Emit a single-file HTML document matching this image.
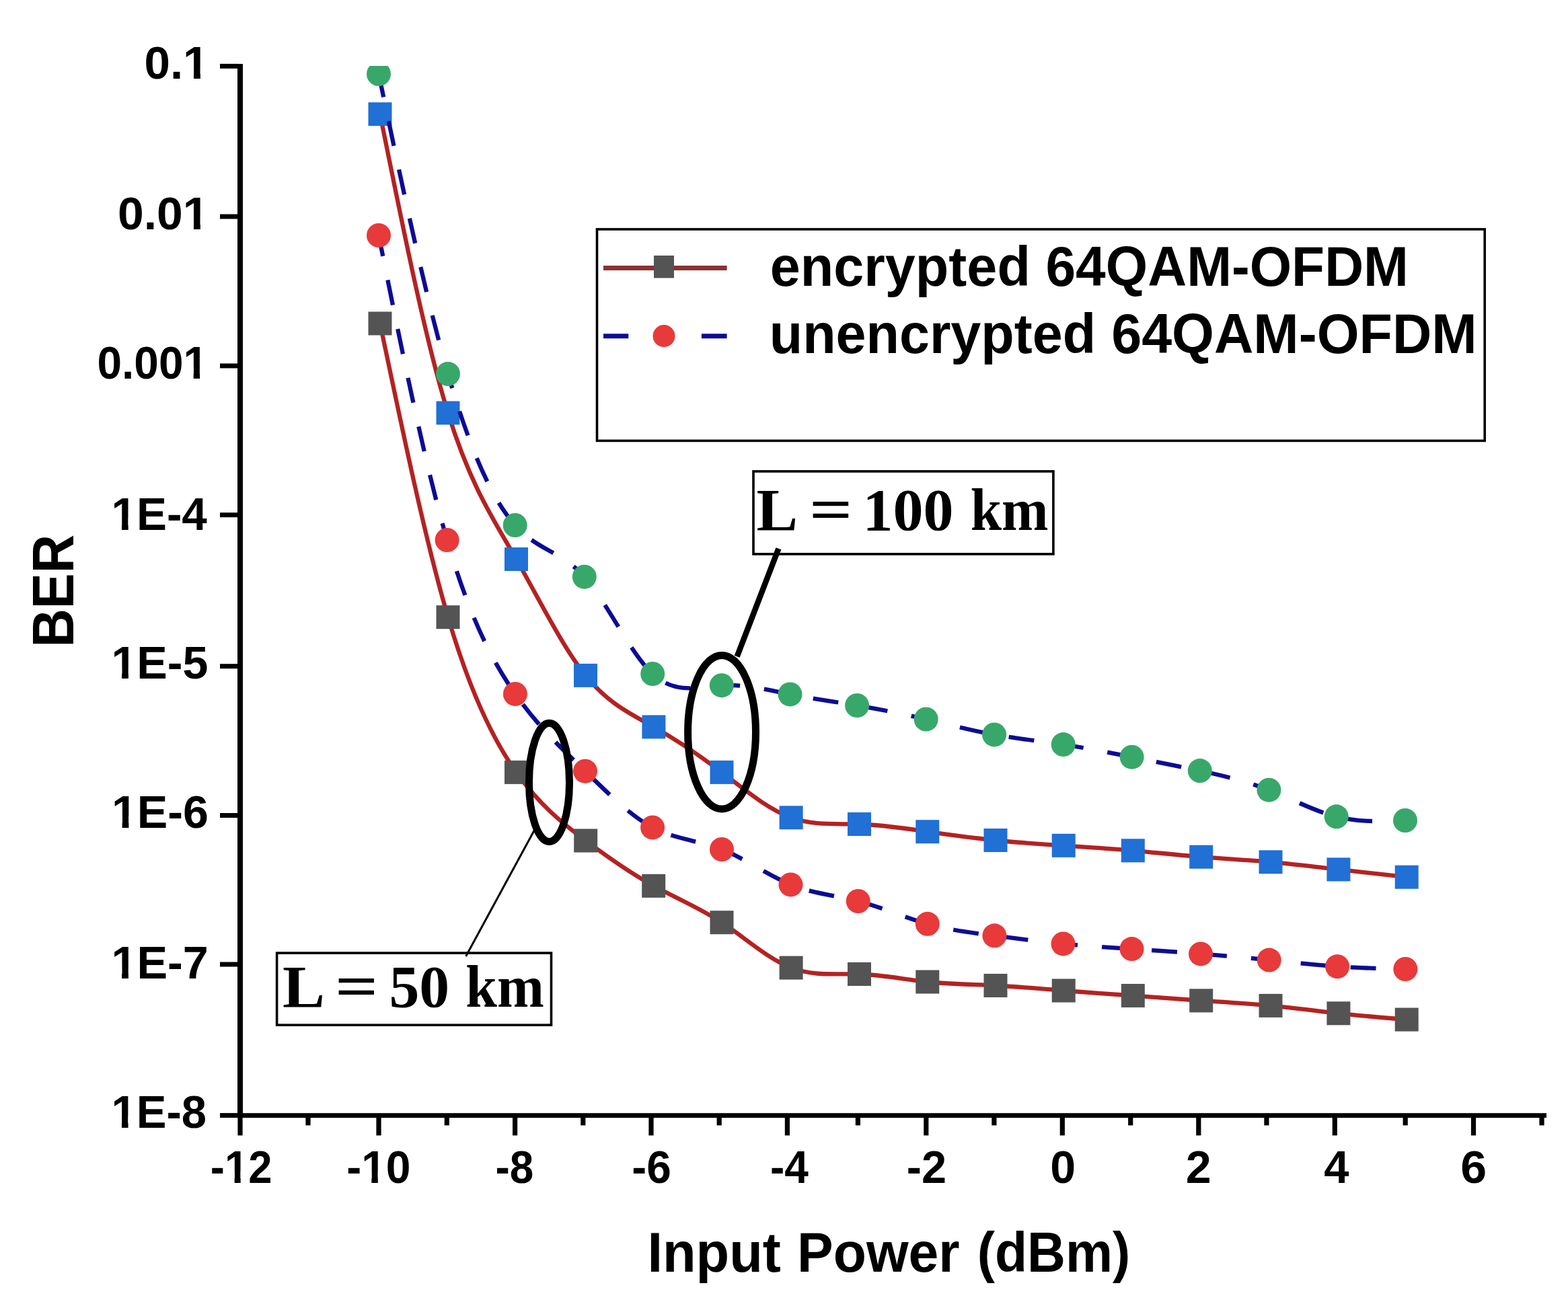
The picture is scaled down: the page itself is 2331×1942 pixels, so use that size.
<!DOCTYPE html>
<html><head><meta charset="utf-8"><title>BER vs Input Power</title>
<style>html,body{margin:0;padding:0;background:#fff;overflow:hidden;}svg{display:block;}</style>
</head><body>
<svg width="2331" height="1942" viewBox="0 0 2331 1942">
<defs><clipPath id="plot"><rect x="361" y="98" width="1970" height="1557"/></clipPath></defs>
<rect width="2331" height="1942" fill="#fff"/>
<g clip-path="url(#plot)">
<path d="M565.0,481.0 C598.7,642.1 632.3,803.2 666.0,917.7 C699.8,1032.8 733.7,1100.8 767.5,1148.4 C801.9,1196.8 836.3,1224.3 870.7,1250.0 C904.4,1275.2 938.0,1298.7 971.7,1317.3 C1005.5,1335.9 1039.2,1349.5 1073.0,1371.7 C1107.4,1394.3 1141.7,1425.9 1176.1,1439.1 C1209.9,1452.1 1243.7,1447.4 1277.5,1448.5 C1311.3,1449.6 1345.0,1456.4 1378.8,1460.0 C1412.5,1463.6 1446.3,1463.8 1480.0,1465.5 C1513.7,1467.2 1547.5,1470.3 1581.2,1473.0 C1615.6,1475.7 1649.9,1478.0 1684.3,1480.5 C1718.1,1483.0 1751.9,1485.6 1785.7,1487.9 C1820.1,1490.2 1854.6,1492.1 1889.0,1495.4 C1922.6,1498.6 1956.3,1503.1 1989.9,1506.8 C2023.7,1510.5 2057.4,1513.3 2091.2,1516.1" fill="none" stroke="#b42222" stroke-width="6.3"/>
<g fill="#545454"><rect x="547.5" y="463.5" width="35" height="35"/><rect x="648.5" y="900.2" width="35" height="35"/><rect x="750.0" y="1130.9" width="35" height="35"/><rect x="853.2" y="1232.5" width="35" height="35"/><rect x="954.2" y="1299.8" width="35" height="35"/><rect x="1055.5" y="1354.2" width="35" height="35"/><rect x="1158.6" y="1421.6" width="35" height="35"/><rect x="1260.0" y="1431.0" width="35" height="35"/><rect x="1361.3" y="1442.5" width="35" height="35"/><rect x="1462.5" y="1448.0" width="35" height="35"/><rect x="1563.7" y="1455.5" width="35" height="35"/><rect x="1666.8" y="1463.0" width="35" height="35"/><rect x="1768.2" y="1470.4" width="35" height="35"/><rect x="1871.5" y="1477.9" width="35" height="35"/><rect x="1972.4" y="1489.3" width="35" height="35"/><rect x="2073.7" y="1498.6" width="35" height="35"/></g>
<path d="M563.0,350.0 C596.9,518.3 630.7,686.5 664.6,803.0 C698.4,919.1 732.1,983.8 765.9,1031.9 C800.6,1081.3 835.3,1113.2 870.0,1146.7 C903.4,1178.9 936.7,1212.7 970.1,1230.4 C1004.4,1248.6 1038.7,1249.7 1073.0,1263.0 C1107.2,1276.3 1141.3,1301.6 1175.5,1315.4 C1208.9,1328.9 1242.3,1331.4 1275.7,1340.0 C1310.1,1348.9 1344.4,1364.2 1378.8,1373.8 C1412.0,1383.1 1445.2,1387.1 1478.4,1391.3 C1512.4,1395.6 1546.5,1400.1 1580.5,1403.4 C1614.5,1406.7 1648.5,1408.9 1682.5,1411.1 C1716.7,1413.3 1750.8,1415.7 1785.0,1418.4 C1818.9,1421.1 1852.8,1424.1 1886.7,1427.6 C1920.5,1431.0 1954.3,1434.9 1988.1,1437.2 C2021.8,1439.5 2055.6,1440.2 2089.3,1441.0" fill="none" stroke="#0c0c94" stroke-width="6.3" stroke-dasharray="38 36.15" stroke-dashoffset="6.47"/>
<g fill="#e83a3a"><circle cx="563.0" cy="350.0" r="18"/><circle cx="664.6" cy="803.0" r="18"/><circle cx="765.9" cy="1031.9" r="18"/><circle cx="870.0" cy="1146.7" r="18"/><circle cx="970.1" cy="1230.4" r="18"/><circle cx="1073.0" cy="1263.0" r="18"/><circle cx="1175.5" cy="1315.4" r="18"/><circle cx="1275.7" cy="1340.0" r="18"/><circle cx="1378.8" cy="1373.8" r="18"/><circle cx="1478.4" cy="1391.3" r="18"/><circle cx="1580.5" cy="1403.4" r="18"/><circle cx="1682.5" cy="1411.1" r="18"/><circle cx="1785.0" cy="1418.4" r="18"/><circle cx="1886.7" cy="1427.6" r="18"/><circle cx="1988.1" cy="1437.2" r="18"/><circle cx="2089.3" cy="1441.0" r="18"/></g>
<path d="M565.0,169.7 C598.7,337.6 632.3,505.4 666.0,614.0 C699.8,723.1 733.7,772.4 767.5,831.5 C801.8,891.5 836.2,961.7 870.5,1004.4 C904.3,1046.4 938.1,1061.8 971.9,1080.9 C1005.6,1100.0 1039.3,1122.9 1073.0,1148.4 C1107.4,1174.5 1141.7,1203.3 1176.1,1215.8 C1209.9,1228.1 1243.7,1224.6 1277.5,1225.5 C1311.3,1226.4 1345.0,1231.8 1378.8,1236.7 C1412.5,1241.6 1446.3,1246.1 1480.0,1249.5 C1513.7,1252.9 1547.5,1255.1 1581.2,1257.3 C1615.6,1259.6 1649.9,1261.8 1684.3,1264.8 C1718.1,1267.8 1751.9,1271.5 1785.7,1274.2 C1820.1,1277.0 1854.6,1278.8 1889.0,1281.8 C1922.6,1284.8 1956.3,1289.0 1989.9,1292.9 C2023.7,1296.8 2057.4,1300.5 2091.2,1304.2" fill="none" stroke="#b42222" stroke-width="6.3"/>
<g fill="#2070d6"><rect x="547.5" y="152.2" width="35" height="35"/><rect x="648.5" y="596.5" width="35" height="35"/><rect x="750.0" y="814.0" width="35" height="35"/><rect x="853.0" y="986.9" width="35" height="35"/><rect x="954.4" y="1063.4" width="35" height="35"/><rect x="1055.5" y="1130.9" width="35" height="35"/><rect x="1158.6" y="1198.3" width="35" height="35"/><rect x="1260.0" y="1208.0" width="35" height="35"/><rect x="1361.3" y="1219.2" width="35" height="35"/><rect x="1462.5" y="1232.0" width="35" height="35"/><rect x="1563.7" y="1239.8" width="35" height="35"/><rect x="1666.8" y="1247.3" width="35" height="35"/><rect x="1768.2" y="1256.7" width="35" height="35"/><rect x="1871.5" y="1264.3" width="35" height="35"/><rect x="1972.4" y="1275.4" width="35" height="35"/><rect x="2073.7" y="1286.7" width="35" height="35"/></g>
<path d="M563.0,110.0 C597.3,273.6 631.7,437.2 666.0,556.0 C699.2,671.0 732.5,743.9 765.7,781.0 C800.1,819.3 834.4,819.3 868.8,857.7 C902.6,895.5 936.4,970.5 970.2,1002.0 C1004.4,1033.9 1038.6,1021.2 1072.8,1019.2 C1106.7,1017.2 1140.6,1025.8 1174.5,1032.4 C1207.7,1038.9 1240.9,1043.4 1274.1,1049.0 C1308.3,1054.7 1342.5,1061.6 1376.7,1069.5 C1410.5,1077.3 1444.3,1086.3 1478.1,1092.4 C1512.3,1098.6 1546.5,1102.0 1580.7,1107.1 C1614.7,1112.2 1648.6,1119.0 1682.6,1125.7 C1716.3,1132.4 1750.1,1138.9 1783.8,1146.1 C1818.0,1153.4 1852.2,1161.4 1886.4,1174.7 C1919.8,1187.7 1953.3,1205.9 1986.7,1214.3 C2020.8,1222.9 2054.9,1221.5 2089.0,1220.0" fill="none" stroke="#0c0c94" stroke-width="6.3" stroke-dasharray="38 36.15" stroke-dashoffset="3.09"/>
<g fill="#38a86a"><circle cx="563.0" cy="110.0" r="18"/><circle cx="666.0" cy="556.0" r="18"/><circle cx="765.7" cy="781.0" r="18"/><circle cx="868.8" cy="857.7" r="18"/><circle cx="970.2" cy="1002.0" r="18"/><circle cx="1072.8" cy="1019.2" r="18"/><circle cx="1174.5" cy="1032.4" r="18"/><circle cx="1274.1" cy="1049.0" r="18"/><circle cx="1376.7" cy="1069.5" r="18"/><circle cx="1478.1" cy="1092.4" r="18"/><circle cx="1580.7" cy="1107.1" r="18"/><circle cx="1682.6" cy="1125.7" r="18"/><circle cx="1783.8" cy="1146.1" r="18"/><circle cx="1886.4" cy="1174.7" r="18"/><circle cx="1986.7" cy="1214.3" r="18"/><circle cx="2089.0" cy="1220.0" r="18"/></g>
</g>
<rect x="353" y="95" width="8" height="1567" fill="#000"/>
<rect x="353" y="1655.2" width="1946" height="7" fill="#000"/>
<rect x="327" y="94.9" width="28" height="7" fill="#000"/>
<rect x="327" y="318.5" width="28" height="7" fill="#000"/>
<rect x="327" y="540.5" width="28" height="7" fill="#000"/>
<rect x="327" y="762.2" width="28" height="7" fill="#000"/>
<rect x="327" y="987.2" width="28" height="7" fill="#000"/>
<rect x="327" y="1209.0" width="28" height="7" fill="#000"/>
<rect x="327" y="1430.5" width="28" height="7" fill="#000"/>
<rect x="327" y="1655.1" width="28" height="7" fill="#000"/>
<rect x="353.4" y="1660" width="7.2" height="28.4" fill="#000"/>
<rect x="559.4" y="1660" width="7.2" height="28.4" fill="#000"/>
<rect x="762.0" y="1660" width="7.2" height="28.4" fill="#000"/>
<rect x="964.4" y="1660" width="7.2" height="28.4" fill="#000"/>
<rect x="1166.8" y="1660" width="7.2" height="28.4" fill="#000"/>
<rect x="1373.2" y="1660" width="7.2" height="28.4" fill="#000"/>
<rect x="1575.7" y="1660" width="7.2" height="28.4" fill="#000"/>
<rect x="1778.2" y="1660" width="7.2" height="28.4" fill="#000"/>
<rect x="1980.7" y="1660" width="7.2" height="28.4" fill="#000"/>
<rect x="2186.9" y="1660" width="7.2" height="28.4" fill="#000"/>
<rect x="454.4" y="1660" width="7.2" height="13.4" fill="#000"/>
<rect x="660.7" y="1660" width="7.2" height="13.4" fill="#000"/>
<rect x="863.2" y="1660" width="7.2" height="13.4" fill="#000"/>
<rect x="1065.6" y="1660" width="7.2" height="13.4" fill="#000"/>
<rect x="1271.8" y="1660" width="7.2" height="13.4" fill="#000"/>
<rect x="1474.3" y="1660" width="7.2" height="13.4" fill="#000"/>
<rect x="1677.1" y="1660" width="7.2" height="13.4" fill="#000"/>
<rect x="1879.3" y="1660" width="7.2" height="13.4" fill="#000"/>
<rect x="2085.6" y="1660" width="7.2" height="13.4" fill="#000"/>
<rect x="2288.4" y="1660" width="7.2" height="13.4" fill="#000"/>
<rect x="887.5" y="340.9" width="1319.7" height="314.5" fill="#fff" stroke="#000" stroke-width="3.6"/>
<line x1="897" y1="398.5" x2="1080.6" y2="398.5" stroke="#8a3232" stroke-width="6.8"/>
<rect x="972" y="380" width="30" height="33.4" fill="#545454"/>
<line x1="897" y1="499.8" x2="934.3" y2="499.8" stroke="#0c0c94" stroke-width="7"/>
<line x1="1042.9" y1="499.8" x2="1080.6" y2="499.8" stroke="#0c0c94" stroke-width="7"/>
<circle cx="987" cy="499.6" r="16.5" fill="#e83a3a"/>
<ellipse cx="1073.05" cy="1088.7" rx="50.45" ry="114.3" fill="none" stroke="#000" stroke-width="11"/>
<ellipse cx="816.5" cy="1163.4" rx="30" ry="88.1" fill="none" stroke="#000" stroke-width="11"/>
<rect x="1120" y="700.9" width="445.9" height="123" fill="#fff" stroke="#000" stroke-width="3.6"/>
<rect x="411.6" y="1417.1" width="407.9" height="107.1" fill="#fff" stroke="#000" stroke-width="3.6"/>
<line x1="1157.4" y1="815.8" x2="1095.7" y2="976.3" stroke="#000" stroke-width="8.5"/>
<line x1="692.6" y1="1422" x2="794.3" y2="1234.6" stroke="#000" stroke-width="3"/>
<g fill="#000">
<g transform="translate(214.44 116.80) scale(0.6912 0.6930)"><text font-family="'Liberation Sans', Arial, sans-serif" font-weight="bold" font-size="100">0.1</text><rect x="84.37" y="-25" width="22.07" height="27" fill="#fff"/><rect x="120.74" y="-25" width="17.33" height="27" fill="#fff"/></g>
<g transform="translate(175.01 340.90) scale(0.6968 0.6930)"><text font-family="'Liberation Sans', Arial, sans-serif" font-weight="bold" font-size="100">0.01</text><rect x="139.98" y="-25" width="22.07" height="27" fill="#fff"/><rect x="176.35" y="-25" width="17.33" height="27" fill="#fff"/></g>
<g transform="translate(144.47 563.00) scale(0.6580 0.6930)"><text font-family="'Liberation Sans', Arial, sans-serif" font-weight="bold" font-size="100">0.001</text><rect x="195.59" y="-25" width="22.07" height="27" fill="#fff"/><rect x="231.96" y="-25" width="17.33" height="27" fill="#fff"/></g>
<g transform="translate(165.46 787.70) scale(0.6741 0.6930)"><text font-family="'Liberation Sans', Arial, sans-serif" font-weight="bold" font-size="100">1E-4</text><rect x="0.98" y="-25" width="22.07" height="27" fill="#fff"/><rect x="37.35" y="-25" width="17.33" height="27" fill="#fff"/></g>
<g transform="translate(165.41 1009.20) scale(0.6822 0.6930)"><text font-family="'Liberation Sans', Arial, sans-serif" font-weight="bold" font-size="100">1E-5</text><rect x="0.98" y="-25" width="22.07" height="27" fill="#fff"/><rect x="37.35" y="-25" width="17.33" height="27" fill="#fff"/></g>
<g transform="translate(165.90 1230.70) scale(0.6826 0.6930)"><text font-family="'Liberation Sans', Arial, sans-serif" font-weight="bold" font-size="100">1E-6</text><rect x="0.98" y="-25" width="22.07" height="27" fill="#fff"/><rect x="37.35" y="-25" width="17.33" height="27" fill="#fff"/></g>
<g transform="translate(165.40 1455.40) scale(0.6831 0.6930)"><text font-family="'Liberation Sans', Arial, sans-serif" font-weight="bold" font-size="100">1E-7</text><rect x="0.98" y="-25" width="22.07" height="27" fill="#fff"/><rect x="37.35" y="-25" width="17.33" height="27" fill="#fff"/></g>
<g transform="translate(165.48 1676.50) scale(0.6708 0.6930)"><text font-family="'Liberation Sans', Arial, sans-serif" font-weight="bold" font-size="100">1E-8</text><rect x="0.98" y="-25" width="22.07" height="27" fill="#fff"/><rect x="37.35" y="-25" width="17.33" height="27" fill="#fff"/></g>
<g transform="translate(312.86 1759.10) scale(0.6343 0.6930)"><text font-family="'Liberation Sans', Arial, sans-serif" font-weight="bold" font-size="100">-12</text><rect x="34.27" y="-25" width="22.07" height="27" fill="#fff"/><rect x="70.65" y="-25" width="17.33" height="27" fill="#fff"/></g>
<g transform="translate(515.16 1759.10) scale(0.6603 0.6930)"><text font-family="'Liberation Sans', Arial, sans-serif" font-weight="bold" font-size="100">-10</text><rect x="34.27" y="-25" width="22.07" height="27" fill="#fff"/><rect x="70.65" y="-25" width="17.33" height="27" fill="#fff"/></g>
<text transform="translate(736.44 1759.10) scale(0.6390 0.6930)" font-family="'Liberation Sans', Arial, sans-serif" font-weight="bold" font-size="100">-8</text>
<text transform="translate(939.27 1759.10) scale(0.6580 0.6930)" font-family="'Liberation Sans', Arial, sans-serif" font-weight="bold" font-size="100">-6</text>
<text transform="translate(1145.04 1759.10) scale(0.6405 0.6930)" font-family="'Liberation Sans', Arial, sans-serif" font-weight="bold" font-size="100">-4</text>
<text transform="translate(1347.73 1759.10) scale(0.6667 0.6930)" font-family="'Liberation Sans', Arial, sans-serif" font-weight="bold" font-size="100">-2</text>
<text transform="translate(1561.28 1759.10) scale(0.6809 0.6930)" font-family="'Liberation Sans', Arial, sans-serif" font-weight="bold" font-size="100">0</text>
<text transform="translate(1762.76 1759.10) scale(0.6816 0.6930)" font-family="'Liberation Sans', Arial, sans-serif" font-weight="bold" font-size="100">2</text>
<text transform="translate(1968.36 1759.10) scale(0.6698 0.6930)" font-family="'Liberation Sans', Arial, sans-serif" font-weight="bold" font-size="100">4</text>
<text transform="translate(2171.21 1759.10) scale(0.6979 0.6930)" font-family="'Liberation Sans', Arial, sans-serif" font-weight="bold" font-size="100">6</text>
<text transform="translate(962.41 1890.70) scale(0.8127 0.8400)" font-family="'Liberation Sans', Arial, sans-serif" font-weight="bold" font-size="100">Input</text>
<text transform="translate(1185.06 1890.70) scale(0.8051 0.8400)" font-family="'Liberation Sans', Arial, sans-serif" font-weight="bold" font-size="100">Power</text>
<text transform="translate(1452.66 1890.70) scale(0.7878 0.8400)" font-family="'Liberation Sans', Arial, sans-serif" font-weight="bold" font-size="100">(dBm)</text>
<text transform="translate(1144.66 424.60) scale(0.8103 0.8400)" font-family="'Liberation Sans', Arial, sans-serif" font-weight="bold" font-size="100">encrypted</text>
<text transform="translate(1554.49 424.60) scale(0.8026 0.8400)" font-family="'Liberation Sans', Arial, sans-serif" font-weight="bold" font-size="100">64QAM-OFDM</text>
<text transform="translate(1143.75 525.40) scale(0.8089 0.8400)" font-family="'Liberation Sans', Arial, sans-serif" font-weight="bold" font-size="100">unencrypted</text>
<text transform="translate(1652.17 525.40) scale(0.8085 0.8400)" font-family="'Liberation Sans', Arial, sans-serif" font-weight="bold" font-size="100">64QAM-OFDM</text>
<text transform="translate(1124.56 788.20) scale(0.9217 0.8900)" font-family="'Liberation Serif', 'Times New Roman', serif" font-weight="bold" font-size="100">L</text>
<text transform="translate(1202.95 788.20) scale(1.1304 0.8900)" font-family="'Liberation Serif', 'Times New Roman', serif" font-weight="bold" font-size="100">=</text>
<text transform="translate(1282.39 788.20) scale(0.9014 0.8900)" font-family="'Liberation Serif', 'Times New Roman', serif" font-weight="bold" font-size="100">100</text>
<text transform="translate(1442.63 788.20) scale(0.8341 0.8900)" font-family="'Liberation Serif', 'Times New Roman', serif" font-weight="bold" font-size="100">km</text>
<text transform="translate(419.91 1496.50) scale(0.9433 0.8800)" font-family="'Liberation Serif', 'Times New Roman', serif" font-weight="bold" font-size="100">L</text>
<text transform="translate(497.97 1496.50) scale(1.1261 0.8800)" font-family="'Liberation Serif', 'Times New Roman', serif" font-weight="bold" font-size="100">=</text>
<text transform="translate(578.41 1496.50) scale(0.8978 0.8800)" font-family="'Liberation Serif', 'Times New Roman', serif" font-weight="bold" font-size="100">50</text>
<text transform="translate(692.32 1496.50) scale(0.8393 0.8800)" font-family="'Liberation Serif', 'Times New Roman', serif" font-weight="bold" font-size="100">km</text>
<text transform="translate(108.90 962.56) rotate(-90) scale(0.7941 0.8652)" font-family="'Liberation Sans', Arial, sans-serif" font-weight="bold" font-size="100">BER</text>
</g>
</svg>
</body></html>
